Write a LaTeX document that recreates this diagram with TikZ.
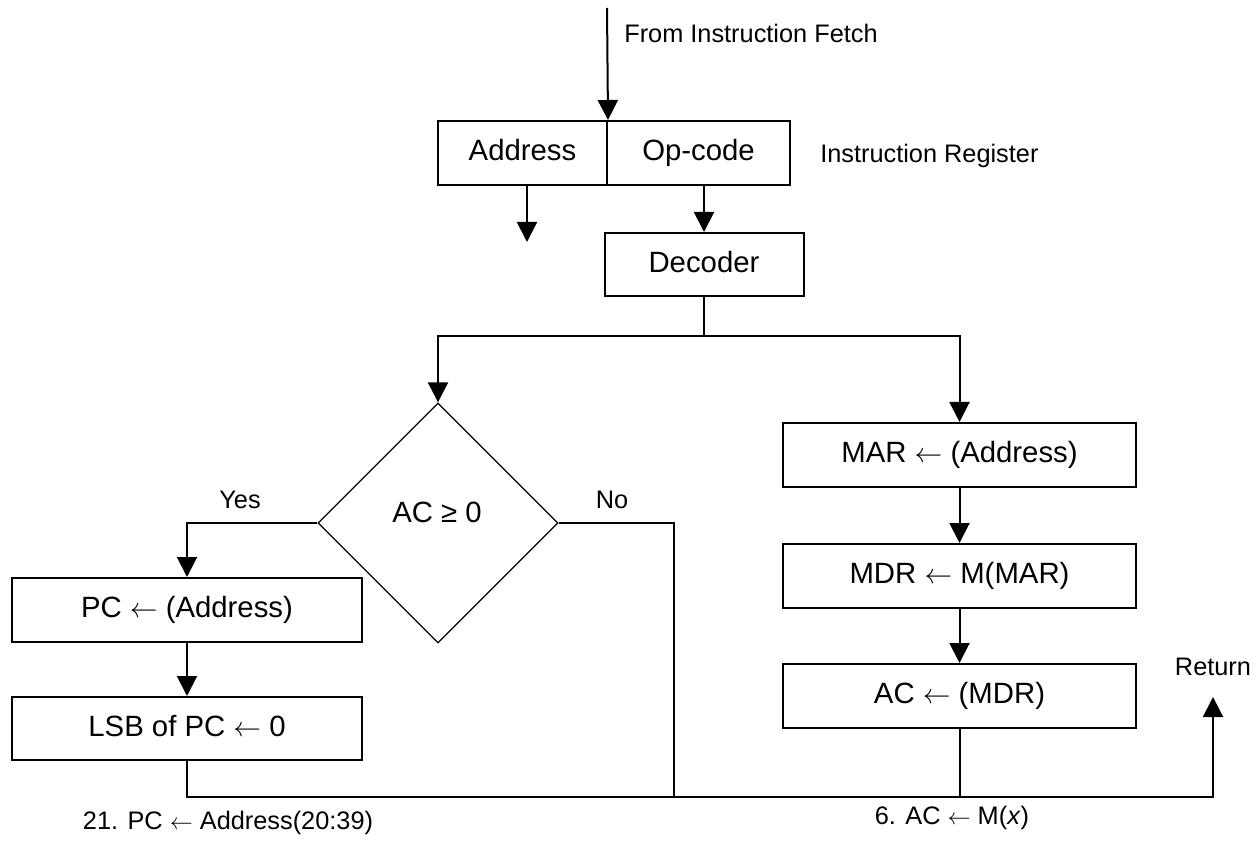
\documentclass[tikz,border=0pt]{standalone}
\usepackage{fontspec}
\setmainfont{Liberation Sans}
\usetikzlibrary{arrows.meta,shapes.geometric}
\newcommand{\getsarrow}{\ensuremath{\leftarrow}}
\tikzset{
  box/.style={draw,line width=1.5pt,rectangle,inner sep=0pt,minimum height=48pt,
    text height=11.3pt,text depth=0pt,font=\fontsize{22}{26}\selectfont},
  lbl/.style={inner sep=0pt,font=\fontsize{19}{23}\selectfont},
  wire/.style={line width=1.5pt},
  flow/.style={wire,-{Triangle[length=15pt,width=15pt]}},
}
\begin{document}
\begin{tikzpicture}[x=0.75pt,y=-0.75pt]
  \useasboundingbox (0,0) rectangle (1260,841);

  % instruction register
  \node[box,minimum width=126.75pt] (addr) at (522.5,153) {Address};
  \node[box,minimum width=137.25pt] (opc) at (698.5,153) {Op-code};
  \node[lbl,anchor=west] (irlbl) at (820,156) {Instruction Register};

  % input from fetch
  \coordinate (fetch) at (607,8);
  \draw[flow] (fetch) -- (addr.north east);
  \node[lbl,anchor=west] (fetchlbl) at (624,33) {From Instruction Fetch};

  % address output
  \coordinate (addrout) at (527,242);
  \draw[flow] (addr.south -| addrout) -- (addrout);

  % decoder
  \node[box,minimum width=149.25pt,minimum height=47.25pt] (dec) at (704,264.5) {Decoder};
  \draw[flow] (dec.north |- opc.south) -- (dec.north);
  \coordinate (split) at (704,336);

  % branch condition
  \node[draw,line width=1pt,diamond,inner sep=0pt,minimum width=180pt,minimum height=180pt] (cond) at (438,523) {};
  \node[font=\fontsize{22}{26}\selectfont,inner sep=0pt] (condtxt) at (437,512) {AC ≥ 0};
  \node[lbl] (yes) at (240,500) {Yes};
  \node[lbl] (no) at (612,500) {No};

  % jump branch
  \node[box,minimum width=263pt] (pc) at (187,610) {PC \getsarrow\ (Address)};
  \node[box,minimum width=263pt,minimum height=47.25pt] (lsb) at (187,728.5) {LSB of PC \getsarrow\ 0};

  % load branch
  \node[box,minimum width=264.75pt] (mar) at (959.5,455) {MAR \getsarrow\ (Address)};
  \node[box,minimum width=264.75pt] (mdr) at (959.5,576) {MDR \getsarrow\ M(MAR)};
  \node[box,minimum width=264.75pt] (ac) at (959.5,696) {AC \getsarrow\ (MDR)};

  % return path
  \coordinate (nojoin) at (674,797);
  \coordinate (retc) at (1213,797);
  \coordinate (rettip) at (1213,697);
  \node[lbl] (retlbl) at (1213,667) {Return};

  \draw[wire] (dec.south) -- (split);
  \draw[flow] (split) -| (cond.north);
  \draw[flow] (split) -| (mar.north);
  \draw[flow] (cond.west) -| (pc.north);
  \draw[wire] (cond.east) -| (nojoin);
  \draw[flow] (pc.south) -- (lsb.north);
  \draw[flow] (mar.south) -- (mdr.north);
  \draw[flow] (mdr.south) -- (ac.north);
  \draw[wire] (ac.south) -- (ac.south |- retc);
  \draw[flow] (lsb.south) |- (retc) -- (rettip);

  % instruction labels
  \node[lbl] (jumplbl) at (228,823) {21. PC \getsarrow\ Address(20:39)};
  \node[lbl] (loadlbl) at (952,818) {6. AC \getsarrow\ M(\textit{x})};
\end{tikzpicture}
\end{document}
